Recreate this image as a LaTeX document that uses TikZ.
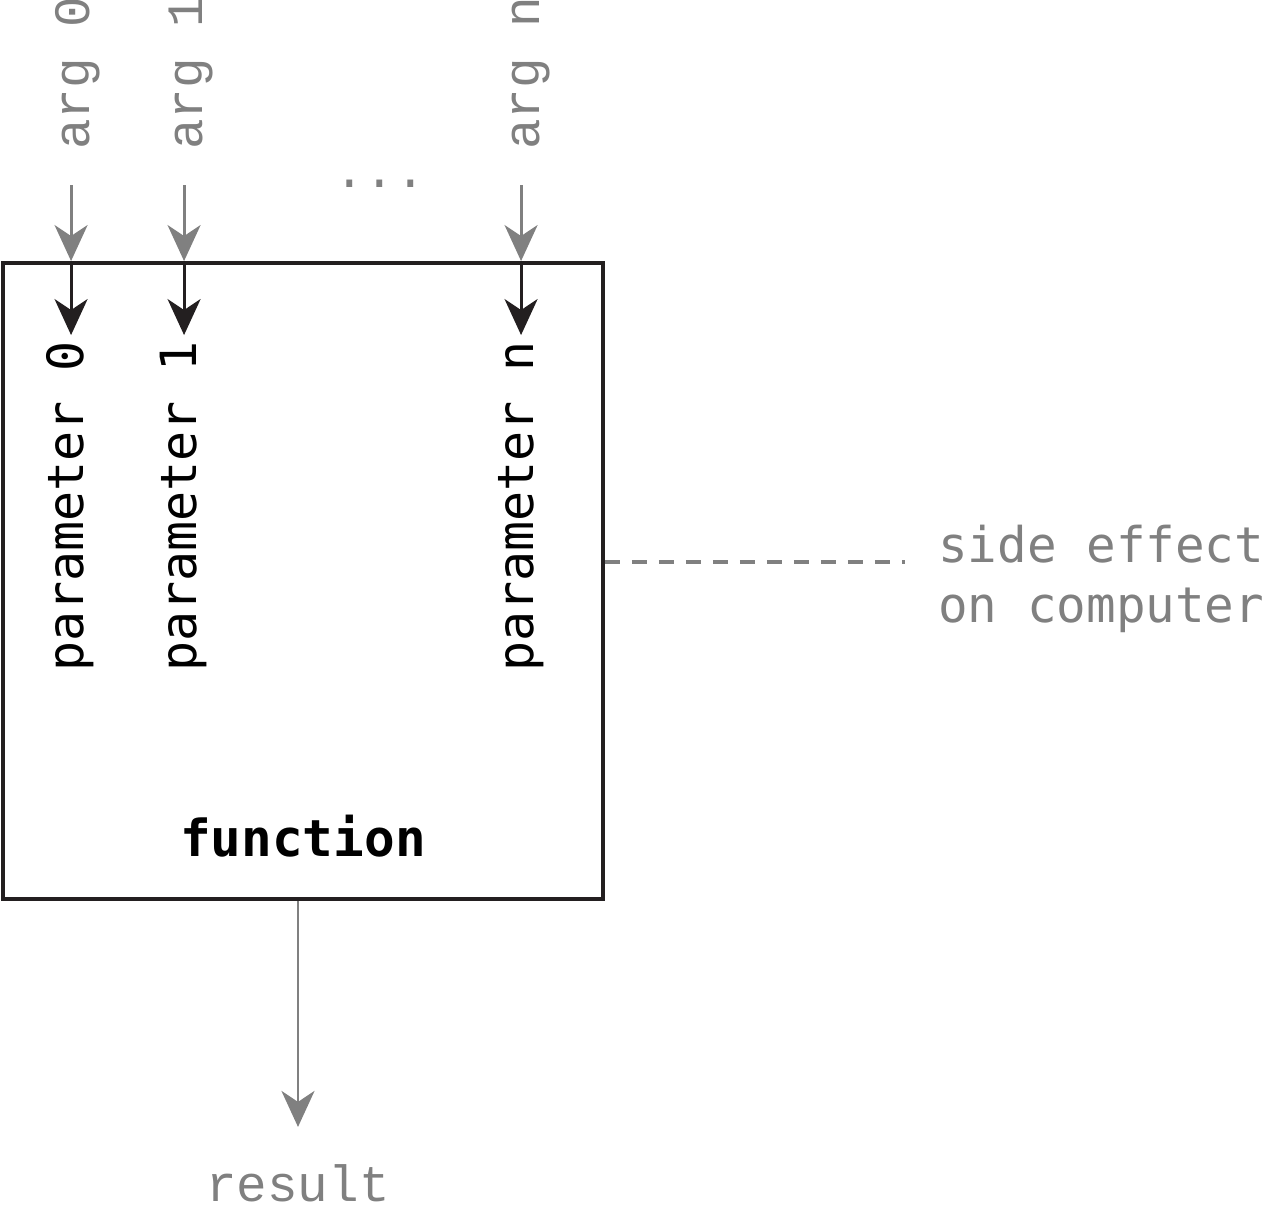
\documentclass[tikz,border=0pt]{standalone}
\usepackage{fontspec}
\setmonofont{DejaVu Sans Mono}
\newfontfamily\argfont{Liberation Mono}
\usepackage{tikz}
\usetikzlibrary{arrows.meta, positioning}
\usepackage{xcolor}
\definecolor{ink}{HTML}{231F20}
\tikzstyle{fnbox} = [%
  rectangle,
  draw=ink,
  line width=2.2pt,
  minimum width=12cm,
  minimum height=12.72cm,
  inner sep=0pt,
  fill=none
]

\begin{document}
\begin{tikzpicture}[%
  >={Stealth[length=0.72cm,width=0.66cm,inset=0.22cm]},
  every node/.style={inner sep=0pt},
  argtxt/.style={%
    font=\argfont\fontsize{29}{34}\selectfont,
    text=gray,
    rotate=90,
    anchor=base west
  },
  partxt/.style={%
    font=\ttfamily\fontsize{28.4}{34}\selectfont,
    text=black,
    rotate=90,
    anchor=base west
  },
  graytxt/.style={font=\argfont\fontsize{29}{34}\selectfont, text=gray},
  sidetxt/.style={font=\ttfamily\fontsize{28}{34}\selectfont, text=gray, align=left},
  inarrow/.style={->, draw=gray, line width=1.7pt},
  parrow/.style={->, draw=ink, line width=1.7pt}
]
  \useasboundingbox (0,0) rectangle (25.34,-24.26);

  % Nodes
  \node[fnbox] (fn) at (6.06,-11.62) {};
  \node[font=\ttfamily\bfseries\fontsize{29}{34}\selectfont, above=0.88cm of fn.south, anchor=base] (fname) {function};

  \coordinate[right=1.40cm of fn.north west] (p0);
  \coordinate[right=3.66cm of fn.north west] (p1);
  \coordinate[right=10.40cm of fn.north west] (pn);

  \coordinate[above=1.52cm of p0] (a0);
  \coordinate[above=1.52cm of p1] (a1);
  \coordinate[above=1.52cm of pn] (an);
  \coordinate[below=1.48cm of p0] (q0);
  \coordinate[below=1.48cm of p1] (q1);
  \coordinate[below=1.48cm of pn] (qn);

  \coordinate[above right=2.22cm and 0.36cm of p0] (t0);
  \coordinate[above right=2.22cm and 0.36cm of p1] (t1);
  \coordinate[above right=2.22cm and 0.36cm of pn] (tn);
  \node[argtxt] (arg0) at (t0) {arg 0};
  \node[argtxt] (arg1) at (t1) {arg 1};
  \node[argtxt] (argn) at (tn) {arg n};
  \node[graytxt, anchor=base] (dots) at (7.6,-3.76) {...};

  \coordinate[below right=8.22cm and 0.24cm of p0] (s0);
  \coordinate[below right=8.22cm and 0.24cm of p1] (s1);
  \coordinate[below right=8.22cm and 0.24cm of pn] (sn);
  \node[partxt] (par0) at (s0) {parameter 0};
  \node[partxt] (par1) at (s1) {parameter 1};
  \node[partxt] (parn) at (sn) {parameter n};

  \coordinate[left=0.10cm of fn.south] (r0);
  \coordinate[below=4.52cm of r0] (r1);
  \node[graytxt, below=1.5cm of r1, anchor=base] (res) {result};

  \coordinate[above=0.38cm of fn.east] (e0);
  \coordinate[right=6.0cm of e0] (e1);
  \node[sidetxt, right=0.66cm of e1, yshift=-0.34cm] (side) {side effect\\on computer};

  % Argument edges
  \draw[inarrow] (a0) -- (p0);
  \draw[inarrow] (a1) -- (p1);
  \draw[inarrow] (an) -- (pn);

  % Parameter edges
  \draw[parrow] (p0) -- (q0);
  \draw[parrow] (p1) -- (q1);
  \draw[parrow] (pn) -- (qn);

  % Result and side effect
  \draw[inarrow] (r0) -- (r1);
  \draw[gray, line width=2pt, dash pattern=on 0.3cm off 0.24cm] (e0) -- (e1);

\end{tikzpicture}
\end{document}
